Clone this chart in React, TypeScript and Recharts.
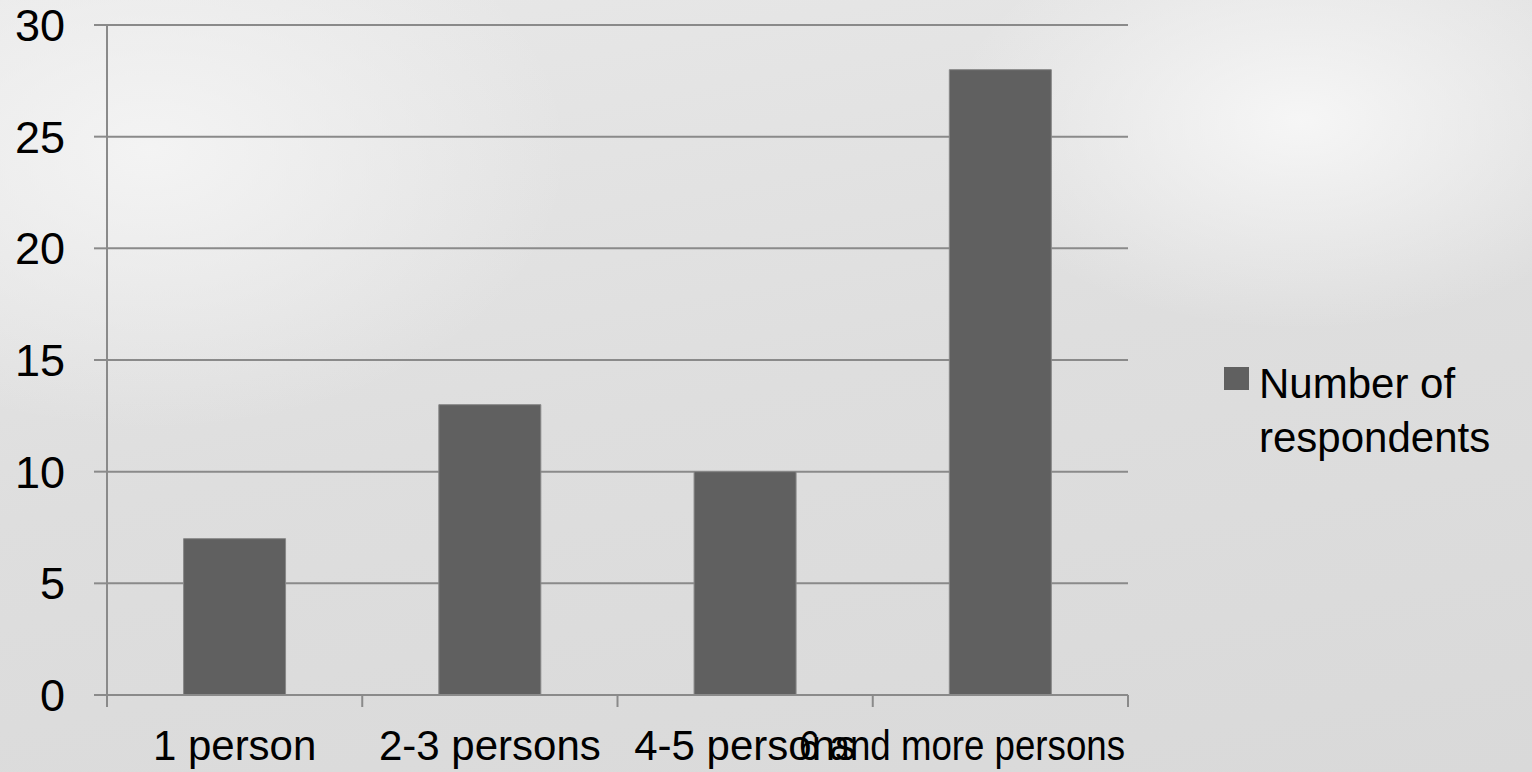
import { BarChart, Bar, XAxis, YAxis, CartesianGrid, Legend } from "recharts";

const categories = ["1 person", "2-3 persons", "4-5 persons", "6 and more persons"];
const respondents = [7, 13, 10, 28];
const yTicks = [0, 5, 10, 15, 20, 25, 30];
const seriesName = "Number of respondents";

const data = categories.map((c, i) => ({ category: c, respondents: respondents[i] }));

const font = "'Liberation Sans', Arial, sans-serif";
const axisGray = "#8a8a8a";
const X_TICK_SIZE = 6;
const X_TICK_MARGIN = 29;
const EDGE_TICK = 12;

// category label plus tick marks at the band edges (Excel style "between" ticks)
function CategoryTick(props: any) {
  const { x, y, payload, index } = props;
  const half = payload.offset || 0;
  const axisY = y - X_TICK_SIZE - X_TICK_MARGIN;
  const last = index === categories.length - 1;
  return (
    <g>
      <line x1={x - half} x2={x - half} y1={axisY} y2={axisY + EDGE_TICK} stroke={axisGray} strokeWidth={2} />
      {last && (
        <line x1={x + half} x2={x + half} y1={axisY} y2={axisY + EDGE_TICK} stroke={axisGray} strokeWidth={2} />
      )}
      {last ? (
        // the long last label is squeezed to end at the plot edge, as in the original
        <text x={x + half - 3} y={y} dy="0.71em" textAnchor="end" fill="#000" fontSize={42} fontFamily={font}
          textLength={326} lengthAdjust="spacingAndGlyphs">
          {payload.value}
        </text>
      ) : (
        <text x={x} y={y} dy="0.71em" textAnchor="middle" fill="#000" fontSize={42} fontFamily={font}>
          {payload.value}
        </text>
      )}
    </g>
  );
}

function LegendBox({ payload }: any) {
  return (
    <div>
      {(payload || []).map((p: any) => (
        <div key={p.value} style={{ display: "flex", alignItems: "flex-start" }}>
          <span style={{ width: 25, height: 23, background: p.color, marginTop: 10, marginRight: 10, flex: "none" }} />
          <span style={{ fontSize: 42, lineHeight: "54px", width: 250, color: "#000", fontFamily: font }}>{p.value}</span>
        </div>
      ))}
    </div>
  );
}

export default function App() {
  return (
    <div
      style={{
        position: "fixed", left: 0, top: 0, width: 1532, height: 772,
        background:
          "radial-gradient(ellipse 500px 300px at 1300px 120px, rgba(248,248,248,0.9), rgba(248,248,248,0) 70%), radial-gradient(ellipse 600px 400px at 150px 150px, rgba(245,245,245,0.9), rgba(245,245,245,0) 70%), linear-gradient(170deg, #e8e8e8 0%, #dedede 50%, #d9d9d9 100%)",
      }}
    >
      <BarChart width={1532} height={772} data={data} margin={{ top: 25, right: 404, bottom: 0, left: 0 }} barCategoryGap="30%">
        <CartesianGrid horizontal vertical={false} stroke={axisGray} strokeWidth={2} />
        <XAxis dataKey="category" height={77} interval={0} axisLine={{ stroke: axisGray, strokeWidth: 2 }} tickLine={false}
          tickSize={X_TICK_SIZE} tickMargin={X_TICK_MARGIN} tick={<CategoryTick />} />
        <YAxis width={107} domain={[0, 30]} ticks={yTicks} interval={0} tickSize={13} tickMargin={29}
          axisLine={{ stroke: axisGray, strokeWidth: 2 }} tickLine={{ stroke: axisGray, strokeWidth: 2 }}
          tick={{ fill: "#000", fontSize: 45, fontFamily: font }} />
        <Legend layout="horizontal" align="center" verticalAlign="middle" content={<LegendBox />}
          wrapperStyle={{ left: 1224, top: 357, width: 300, height: "auto" }} />
        <Bar dataKey="respondents" name={seriesName} fill="#606060" stroke="#888888" strokeWidth={1} isAnimationActive={false} />
      </BarChart>
    </div>
  );
}
